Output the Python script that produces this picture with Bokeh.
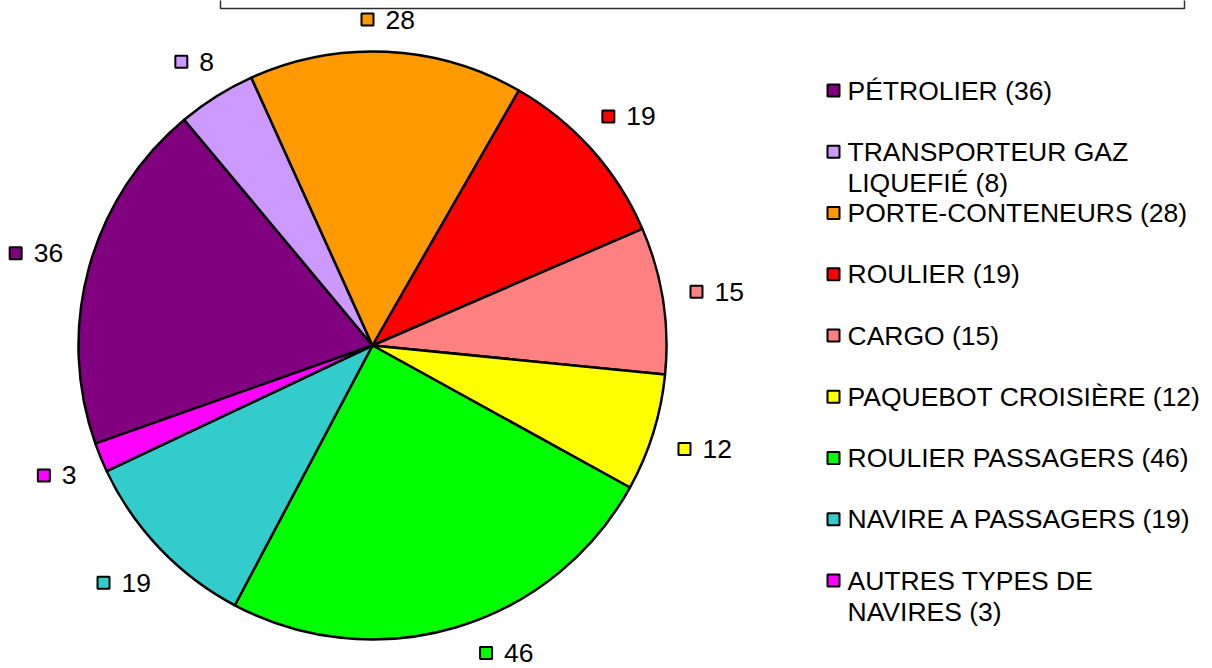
import math
from bokeh.plotting import figure
from bokeh.models import Range1d, ColumnDataSource
from bokeh.core.properties import value
from bokeh.embed import file_html
from bokeh.resources import INLINE

# ---- data ----
categories = ["PÉTROLIER", "TRANSPORTEUR GAZ LIQUEFIÉ", "PORTE-CONTENEURS", "ROULIER",
              "CARGO", "PAQUEBOT CROISIÈRE", "ROULIER PASSAGERS", "NAVIRE A PASSAGERS",
              "AUTRES TYPES DE NAVIRES"]
counts = [36, 8, 28, 19, 15, 12, 46, 19, 3]
colors = ["#800080", "#CC99FF", "#FF9900", "#FF0000", "#FF8080", "#FFFF00",
          "#00FF00", "#33CCCC", "#FF00FF"]
# legend text with the line breaks used in the reference
legend_lines = [["PÉTROLIER (36)"],
                ["TRANSPORTEUR GAZ", "LIQUEFIÉ (8)"],
                ["PORTE-CONTENEURS (28)"],
                ["ROULIER (19)"],
                ["CARGO (15)"],
                ["PAQUEBOT CROISIÈRE (12)"],
                ["ROULIER PASSAGERS (46)"],
                ["NAVIRE A PASSAGERS (19)"],
                ["AUTRES TYPES DE", "NAVIRES (3)"]]

# ---- layout (coordinates: x = picture px, Y = H - picture y) ----
W, H = 1212, 668
FONT = value("Liberation Sans")
FS = "26.5px"

def Y(y):
    return H - y

cx, cy = 372, Y(345)
R = 294
start_deg = 199.5

p = figure(width=W, height=H, x_range=Range1d(0, W), y_range=Range1d(0, H),
           output_backend="svg", toolbar_location=None, min_border=0,
           x_axis_type=None, y_axis_type=None)
p.grid.visible = False
p.outline_line_color = None
p.background_fill_color = "white"
p.border_fill_color = "white"

# title box (cut off at top)
p.line(x=[220, 220, 1184, 1184], y=[Y(-5), Y(8), Y(8), Y(-5)], line_color="#303030", line_width=1.5)

total = sum(counts)
a = math.radians(start_deg)
starts, ends, mids = [], [], []
for c in counts:
    th = 2 * math.pi * c / total
    ends.append(a)
    starts.append(a - th)
    mids.append(a - th / 2)
    a -= th

src = ColumnDataSource(dict(x=[cx] * len(counts), y=[cy] * len(counts),
                            s=starts, e=ends, color=colors))
p.wedge(x="x", y="y", radius=R, radius_units="screen", start_angle="s", end_angle="e",
        fill_color="color", line_color="black", line_width=2.5, source=src)

# data labels outside the pie (slid along the circle to stay inside the picture)
mx, my, tx, ty, txt = [], [], [], [], []
half_h = 15
for m, c in zip(mids, counts):
    s = str(c)
    tw = 14.7 * len(s)
    w = 24 + tw
    ang = m
    for _ in range(300):
        ux, uy = math.cos(ang), math.sin(ang)
        d = R + 28 + (w / 2) * abs(ux) + 3 * abs(uy)
        lx, ly = cx + d * ux, cy + d * uy
        if ly - half_h >= 0 and ly + half_h <= H:
            break
        # move toward the nearest horizontal direction
        ang += math.radians(0.5) * (1 if (ux >= 0) == (uy < 0) else -1)
    left = lx - w / 2
    mx.append(left + 6)
    my.append(ly)
    tx.append(left + 24)
    ty.append(ly)
    txt.append(s)

p.scatter(x=mx, y=my, marker="square", size=12, fill_color=colors, line_color="black", line_width=2)
p.text(x=tx, y=ty, text=txt, text_font=FONT, text_font_size=FS, text_align="left",
       text_baseline="middle", text_color="black")

# legend
lx0, ly0, step, lh = 833, 90, 61.25, 31
lmx, lmy, ltx, lty, ltxt = [], [], [], [], []
for i, lines in enumerate(legend_lines):
    yy = ly0 + i * step
    lmx.append(lx0)
    lmy.append(Y(yy))
    for j, ln in enumerate(lines):
        ltx.append(lx0 + 14)
        lty.append(Y(yy + j * lh))
        ltxt.append(ln)
p.scatter(x=lmx, y=lmy, marker="square", size=12, fill_color=colors, line_color="black", line_width=2)
p.text(x=ltx, y=lty, text=ltxt, text_font=FONT, text_font_size=FS, text_align="left",
       text_baseline="middle", text_color="black")

open("out.html", "w").write(file_html(p, INLINE))
